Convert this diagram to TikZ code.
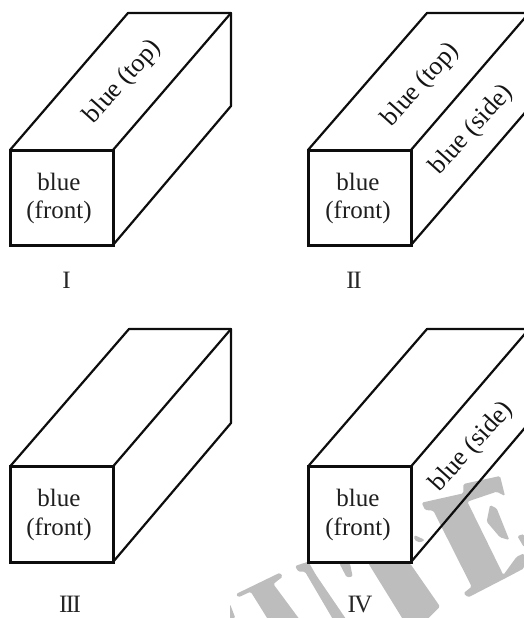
\documentclass[tikz,border=0pt]{standalone}
\usepackage{fontspec}
\setmainfont{Liberation Serif}
\tikzset{
  edge/.style={line width=2.2pt,line cap=round,line join=round,black!95},
  frontedge/.style={line width=3pt,line join=miter,black!95,fill=white},
  lbl/.style={inner sep=0pt,anchor=base,font=\fontsize{25}{29}\selectfont,text=black!88},
  face/.style={inner sep=0pt,rotate=48,font=\fontsize{26}{29}\selectfont,text=black!92},
  num/.style={inner sep=0pt,anchor=base,font=\fontsize{25}{29}\selectfont\addfontfeatures{LetterSpace=-6},text=black!85},
  wm/.style={fill=black!26,draw=none,rounded corners=1.5pt}
}
\newcommand{\zz}[2]{({230+#1/3},{460+#2/3})}
\begin{document}
\begin{tikzpicture}[x=1pt,y=-1pt]
\useasboundingbox (0,0) rectangle (524,618);
\clip (0,0) rectangle (524,618);
% watermark
\fill[wm] \zz{18}{402} -- \zz{150}{338} -- \zz{158}{350} -- \zz{130}{372} -- \zz{210}{480} -- \zz{115}{480} -- \zz{62}{395} -- \zz{25}{412} -- cycle;
\fill[wm] \zz{0}{432} -- \zz{16}{474} -- \zz{0}{480} -- cycle;
\fill[wm] \zz{195}{318} -- \zz{235}{305} -- \zz{258}{345} -- \zz{350}{480} -- \zz{310}{480} -- \zz{225}{335} -- \zz{205}{335} -- cycle;
\fill[wm] \zz{328}{310} -- \zz{360}{310} -- \zz{368}{350} -- \zz{350}{352} -- cycle;
\fill[wm] \zz{415}{310} -- \zz{540}{310} -- \zz{622}{428} -- \zz{630}{440} -- \zz{590}{480} -- \zz{520}{480} -- cycle;
\fill[wm] \zz{553}{225} -- \zz{585}{240} -- \zz{570}{248} -- \zz{553}{240} -- cycle;
\fill[wm] \zz{575}{128} -- \zz{700}{100} -- \zz{700}{72} -- \zz{810}{48} -- \zz{825}{108} -- \zz{800}{95} -- \zz{712}{125} -- \zz{820}{345} -- \zz{860}{290} -- \zz{882}{280} -- \zz{882}{325} -- \zz{835}{350} -- \zz{715}{412} -- \zz{700}{400} -- \zz{725}{380} -- \zz{610}{152} -- \zz{585}{150} -- cycle;
\fill[wm] \zz{780}{135} -- \zz{800}{145} -- \zz{838}{240} -- \zz{810}{232} -- \zz{770}{185} -- cycle;
\fill[wm] \zz{862}{228} -- \zz{882}{222} -- \zz{882}{262} -- cycle;

% corners
\coordinate (a1) at (10,150); \coordinate (a2) at (113,150); \coordinate (a3) at (113,245); \coordinate (a4) at (10,245);
\coordinate (a5) at (128,13); \coordinate (a6) at (231,13); \coordinate (a7) at (231,106);
\coordinate (b1) at (308,150); \coordinate (b2) at (411,150); \coordinate (b3) at (411,245); \coordinate (b4) at (308,245);
\coordinate (b5) at (427,13); \coordinate (b6) at (529,13); \coordinate (b7) at (529,108);
\coordinate (c1) at (10,466.5); \coordinate (c2) at (113,466.5); \coordinate (c3) at (113,562); \coordinate (c4) at (10,562);
\coordinate (c5) at (129,329); \coordinate (c6) at (231,329); \coordinate (c7) at (231,423);
\coordinate (d1) at (308,466.5); \coordinate (d2) at (411,466.5); \coordinate (d3) at (411,562); \coordinate (d4) at (308,562);
\coordinate (d5) at (427,329); \coordinate (d6) at (529,329); \coordinate (d7) at (529,423);

\foreach \k in {a,b,c,d}{
  \draw[edge] (\k1) -- (\k5) -- (\k6) -- (\k7) -- (\k3);
  \draw[edge] (\k2) -- (\k6);
  \draw[frontedge] (\k1) -- (\k2) -- (\k3) -- (\k4) -- cycle;
}
% front labels
\node[lbl] (t1) at (59,190) {blue};
\node[lbl] (t2) at (59,218) {(front)};
\node[lbl] (t3) at (358,190) {blue};
\node[lbl] (t4) at (358,218) {(front)};
\node[lbl] (t5) at (59,506) {blue};
\node[lbl] (t6) at (59,535) {(front)};
\node[lbl] (t7) at (358,506) {blue};
\node[lbl] (t8) at (358,535) {(front)};
% face labels
\node[face] (f1) at (123,82) {blue (top)};
\node[face] (f2) at (421,85) {blue (top)};
\node[face] (f3) at (472,130) {blue (side)};
\node[face] (f4) at (472,447) {blue (side)};
% numerals
\node[num] (n1) at (66.5,288) {I};
\node[num] (n2) at (354,288) {II};
\node[num] (n3) at (70,612.5) {III};
\node[num] (n4) at (360,612.5) {IV};
\end{tikzpicture}
\end{document}
